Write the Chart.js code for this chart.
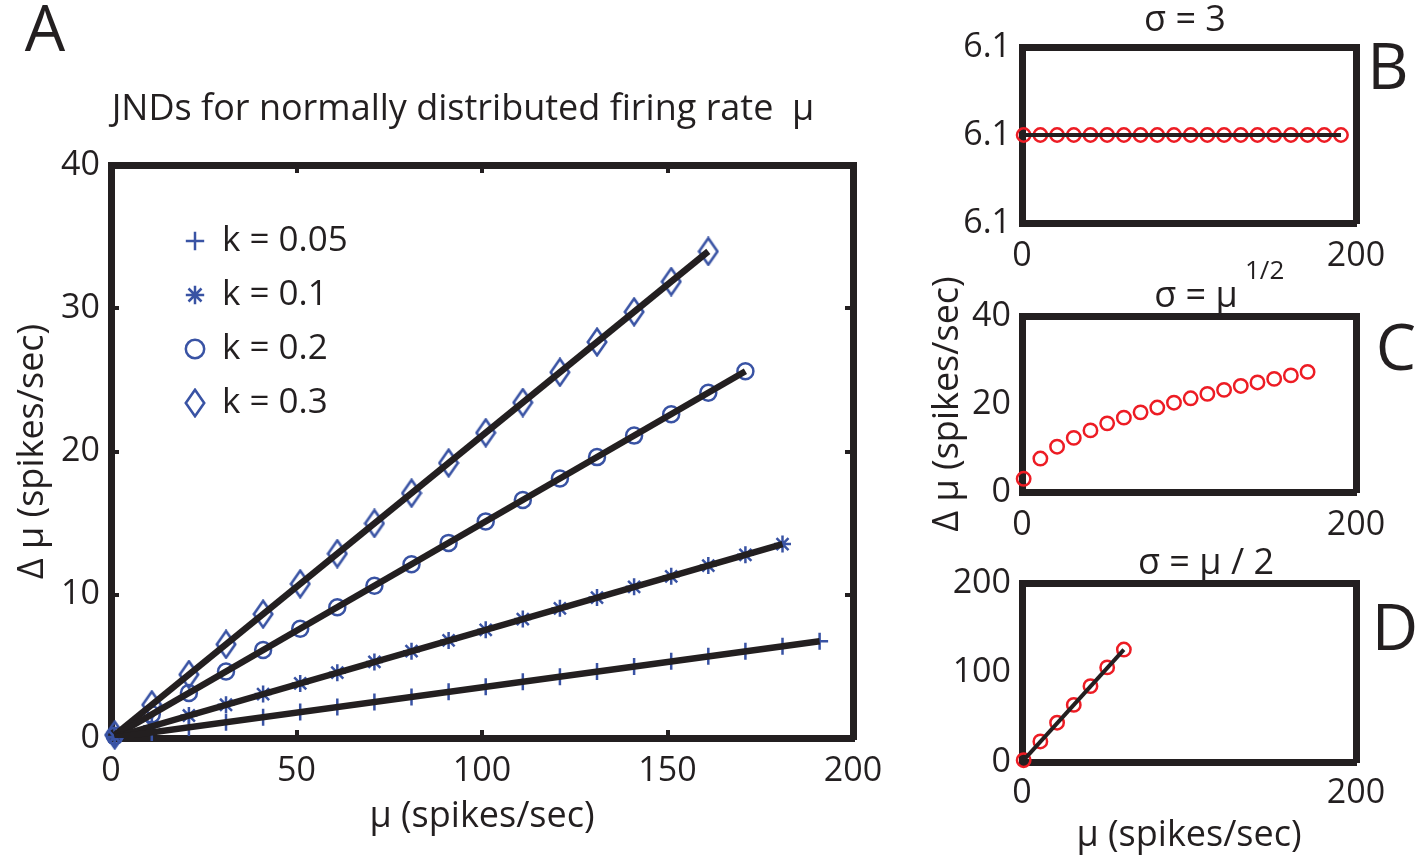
<!DOCTYPE html>
<html><head><meta charset="utf-8">
<script src="https://cdn.jsdelivr.net/npm/chart.js@4.4.1/dist/chart.umd.min.js"></script>
<style>
html,body{margin:0;padding:0;background:#fff;width:1416px;height:859px;overflow:hidden;}
canvas{position:absolute;}
</style></head><body>
<canvas id="cA" width="926" height="859" style="left:0;top:0;width:926px;height:859px"></canvas>
<canvas id="cB" width="486" height="290" style="left:930px;top:0;width:486px;height:290px"></canvas>
<canvas id="cC" width="486" height="290" style="left:930px;top:260px;width:486px;height:290px"></canvas>
<canvas id="cD" width="486" height="319" style="left:930px;top:540px;width:486px;height:319px"></canvas>
<script>
// ---------------- data ----------------
const seriesLabels = ['k = 0.05', 'k = 0.1', 'k = 0.2', 'k = 0.3'];
const muK005 = [1, 11, 21, 31, 41, 51, 61, 71, 81, 91, 101, 111, 121, 131, 141, 151, 161, 171, 181, 191];
const jndK005 = [0.04, 0.39, 0.74, 1.10, 1.45, 1.81, 2.16, 2.51, 2.87, 3.22, 3.58, 3.93, 4.28, 4.64, 4.99, 5.35, 5.70, 6.05, 6.41, 6.76];
const muK01 = [1, 11, 21, 31, 41, 51, 61, 71, 81, 91, 101, 111, 121, 131, 141, 151, 161, 171, 181];
const jndK01 = [0.07, 0.82, 1.57, 2.32, 3.07, 3.81, 4.56, 5.31, 6.06, 6.81, 7.55, 8.30, 9.05, 9.80, 10.55, 11.29, 12.04, 12.79, 13.54];
const muK02 = [1, 11, 21, 31, 41, 51, 61, 71, 81, 91, 101, 111, 121, 131, 141, 151, 161, 171];
const jndK02 = [0.15, 1.65, 3.14, 4.64, 6.14, 7.63, 9.13, 10.63, 12.13, 13.62, 15.12, 16.62, 18.11, 19.61, 21.11, 22.60, 24.10, 25.60];
const muK03 = [1, 11, 21, 31, 41, 51, 61, 71, 81, 91, 101, 111, 121, 131, 141, 151, 161];
const jndK03 = [0.21, 2.32, 4.43, 6.54, 8.65, 10.76, 12.87, 14.98, 17.09, 19.20, 21.31, 23.42, 25.53, 27.64, 29.75, 31.86, 33.97];

const muB = [1, 11, 21, 31, 41, 51, 61, 71, 81, 91, 101, 111, 121, 131, 141, 151, 161, 171, 181, 191];
const jndB = [6.1, 6.1, 6.1, 6.1, 6.1, 6.1, 6.1, 6.1, 6.1, 6.1, 6.1, 6.1, 6.1, 6.1, 6.1, 6.1, 6.1, 6.1, 6.1, 6.1];
const muC = [1, 11, 21, 31, 41, 51, 61, 71, 81, 91, 101, 111, 121, 131, 141, 151, 161, 171];
const jndC = [3.0, 7.6, 10.3, 12.3, 14.0, 15.6, 16.9, 18.1, 19.2, 20.3, 21.3, 22.3, 23.2, 24.1, 24.9, 25.7, 26.5, 27.3];
const muD = [1, 11, 21, 31, 41, 51, 61];
const jndD = [2, 23, 44, 64, 85, 106, 126];

const xTicksA = [0, 50, 100, 150, 200];
const yTicksA = [0, 10, 20, 30, 40];
const xTicksSmall = [0, 200];
const yTicksB = [6.099, 6.1, 6.101];
const yTicksC = [0, 20, 40];
const yTicksD = [0, 100, 200];

const titleA = 'JNDs for normally distributed firing rate  μ';
const xTitle = 'μ (spikes/sec)';
const yTitle = 'Δ μ (spikes/sec)';
const panelTitles = ['σ = 3', 'σ = μ', 'σ = μ / 2'];
const supC = '1/2';
const panelLetters = ['A', 'B', 'C', 'D'];

// ---------------- style ----------------
const INK = '#231f20', BLUE = '#3953a4', RED = '#ed1c24';
const FONT = "'Open Sans', sans-serif";
Chart.defaults.font.family = FONT;
Chart.defaults.color = INK;
Chart.defaults.animation = false;

function diamondImg(w, h, lw, color) {
  const c = document.createElement('canvas'); c.width = w; c.height = h;
  const g = c.getContext('2d'); g.strokeStyle = color; g.lineWidth = lw; g.lineJoin = 'miter';
  const m = lw / 2 + 0.5;
  g.beginPath(); g.moveTo(w / 2, m); g.lineTo(w - m, h / 2); g.lineTo(w / 2, h - m); g.lineTo(m, h / 2); g.closePath(); g.stroke();
  return c;
}
const DIAMOND = diamondImg(22, 30, 2.6, BLUE);

const pts = (xs, ys) => xs.map((x, i) => ({x: x, y: ys[i]}));
const ends = (xs, ys) => [{x: xs[0], y: ys[0]}, {x: xs[xs.length - 1], y: ys[ys.length - 1]}];
const setTicks = arr => s => { s.ticks = arr.map(v => ({value: v})); };
const fix = (prop, val) => s => { s[prop] = val; };

function textPlugin(items) {
  return {
    id: 'panelText',
    afterDraw(chart) {
      const ctx = chart.ctx;
      items.forEach(it => {
        ctx.save();
        ctx.font = (it.size) + 'px ' + FONT;
        ctx.fillStyle = INK; ctx.textAlign = it.align || 'center'; ctx.textBaseline = 'middle';
        ctx.fillText(it.text, it.x, it.y);
        ctx.restore();
      });
    }
  };
}

function boxAxes(xT, yT, sz, opt) {
  const gridT = opt.ticksIn ? {display: true, drawOnChartArea: false, drawTicks: true, tickLength: -8, tickWidth: 4, tickColor: INK, color: INK, lineWidth: 4}
                            : {display: true, drawOnChartArea: false, drawTicks: false, color: INK, lineWidth: 1};
  const border = {display: true, width: 7, color: INK};
  const fmt = opt.fmt || (v => String(v));
  return {
    x: {type: 'linear', position: 'bottom', min: xT[0], max: xT[xT.length - 1],
        afterBuildTicks: setTicks(xT), afterFit: fix('height', sz.xH),
        grid: gridT, border: border,
        ticks: {padding: opt.xPad, font: {size: 34}, color: INK, maxRotation: 0, callback: v => String(v)},
        title: opt.xTitle ? {display: true, text: xTitle, font: {size: 36}, color: INK, padding: {top: 0, bottom: opt.xTitlePad}} : {display: false}},
    y: {type: 'linear', position: 'left', min: yT[0], max: yT[yT.length - 1],
        afterBuildTicks: setTicks(yT), afterFit: fix('width', sz.yW),
        grid: gridT, border: border,
        ticks: {padding: opt.yPad, font: {size: 34}, color: INK, callback: fmt},
        title: opt.yTitle ? {display: true, text: yTitle, font: {size: 36, lineHeight: opt.yTitleLH || 1.2}, color: INK, padding: {top: opt.yTitlePad, bottom: 0}} : {display: false}},
    x2: {type: 'linear', position: 'top', min: xT[0], max: xT[xT.length - 1],
        afterBuildTicks: setTicks(xT), afterFit: fix('height', 0),
        grid: gridT, border: border, ticks: {display: false}},
    y2: {type: 'linear', position: 'right', min: yT[0], max: yT[yT.length - 1],
        afterBuildTicks: setTicks(yT), afterFit: fix('width', sz.y2W),
        grid: gridT, border: border, ticks: {display: false}}
  };
}

// ---------------- Panel A ----------------
const markerCommon = {showLine: false, clip: false, order: 1, pointBorderWidth: 2.5, pointBorderColor: BLUE, pointBackgroundColor: 'rgba(0,0,0,0)', borderColor: BLUE, backgroundColor: 'rgba(0,0,0,0)'};
const fitCommon = {isFit: true, showLine: true, order: 0, pointRadius: 0, borderColor: INK, borderWidth: 6.5, backgroundColor: INK};

const legendShift = {
  id: 'legendShift',
  afterLayout(chart) {
    const l = chart.legend, a = chart.chartArea;
    if (l && a) {
      const w = l.width, h = l.height;
      l.left = a.left + 55.5; l.right = l.left + w;
      l.top = a.top + 39.5; l.bottom = l.top + h;
    }
  }
};

new Chart(document.getElementById('cA'), {
  type: 'scatter',
  data: {datasets: [
    Object.assign({label: seriesLabels[0], data: pts(muK005, jndK005), pointStyle: 'cross', pointRadius: 8.5}, markerCommon),
    Object.assign({label: seriesLabels[1], data: pts(muK01, jndK01), pointStyle: 'star', pointRadius: 8.5}, markerCommon),
    Object.assign({label: seriesLabels[2], data: pts(muK02, jndK02), pointStyle: 'circle', pointRadius: 8}, markerCommon),
    Object.assign({label: seriesLabels[3], data: pts(muK03, jndK03), pointStyle: DIAMOND, pointRadius: 11}, markerCommon),
    Object.assign({label: 'fit 0.05', data: ends(muK005, jndK005)}, fitCommon),
    Object.assign({label: 'fit 0.1', data: ends(muK01, jndK01)}, fitCommon),
    Object.assign({label: 'fit 0.2', data: ends(muK02, jndK02)}, fitCommon),
    Object.assign({label: 'fit 0.3', data: ends(muK03, jndK03)}, fitCommon)
  ]},
  options: {
    responsive: false, devicePixelRatio: 1, animation: false,
    layout: {padding: 0},
    scales: boxAxes(xTicksA, yTicksA, {yW: 111, y2W: 73, xH: 121},
      {ticksIn: true, xPad: 20.5, yPad: 19, xTitle: true, xTitlePad: 21, yTitle: true, yTitlePad: 11}),
    plugins: {
      title: {display: true, text: titleA, font: {size: 36, weight: 'normal'}, color: INK, padding: {top: 88.4, bottom: 33.4}},
      legend: {display: true, position: 'chartArea', align: 'start',
        labels: {usePointStyle: true, boxWidth: 19, boxHeight: 13, padding: 19, font: {size: 35}, color: INK,
          filter: (item, data) => !data.datasets[item.datasetIndex].isFit}},
      tooltip: {enabled: false}
    }
  },
  plugins: [legendShift, textPlugin([{text: panelLetters[0], x: 45, y: 33, size: 64}])]
});

// ---------------- Panels B, C, D ----------------
const redCommon = {showLine: false, clip: false, order: 1, pointStyle: 'circle', pointRadius: 6.7, pointBorderWidth: 2.5, pointBorderColor: RED, pointBackgroundColor: 'rgba(0,0,0,0)', borderColor: RED};
const thinFit = {showLine: true, order: 0, pointRadius: 0, borderColor: INK, borderWidth: 4};

function small(id, datasets, yT, fmt, h, top, bottom, extra, texts) {
  new Chart(document.getElementById(id), {
    type: 'scatter',
    data: {datasets: datasets},
    options: {
      responsive: false, devicePixelRatio: 1, animation: false,
      layout: {padding: {top: top, left: 0, right: 0, bottom: 0}},
      scales: boxAxes(xTicksSmall, yT, {yW: 92, y2W: 60, xH: h - bottom},
        Object.assign({ticksIn: false, xPad: 13, yPad: 11, fmt: fmt}, extra)),
      plugins: {legend: {display: false}, title: {display: false}, tooltip: {enabled: false}}
    },
    plugins: [textPlugin(texts)]
  });
}

small('cB', [
  Object.assign({label: 'σ = 3', data: pts(muB, jndB)}, redCommon),
  Object.assign({label: 'fit B', data: ends(muB, jndB)}, thinFit)
], yTicksB, v => Number(v).toFixed(1), 290, 47, 223, {},
  [{text: panelTitles[0], x: 255, y: 21, size: 36}, {text: panelLetters[1], x: 458, y: 71, size: 64}]);

small('cC', [
  Object.assign({label: 'σ = μ^1/2', data: pts(muC, jndC)}, redCommon)
], yTicksC, v => String(v), 290, 56, 232, {yTitle: true, yTitlePad: 0, yTitleLH: 1.0},
  [{text: panelTitles[1], x: 266, y: 37, size: 36}, {text: supC, x: 315, y: 12, size: 26, align: 'left'},
   {text: panelLetters[2], x: 466, y: 92, size: 64}]);

small('cD', [
  Object.assign({label: 'σ = μ / 2', data: pts(muD, jndD)}, redCommon),
  Object.assign({label: 'fit D', data: ends(muD, jndD)}, thinFit)
], yTicksD, v => String(v), 319, 43.5, 222, {xPad: 11, xTitle: true, xTitlePad: 2},
  [{text: panelTitles[2], x: 276, y: 24, size: 36}, {text: panelLetters[3], x: 465, y: 92, size: 64}]);
</script>
</body></html>
